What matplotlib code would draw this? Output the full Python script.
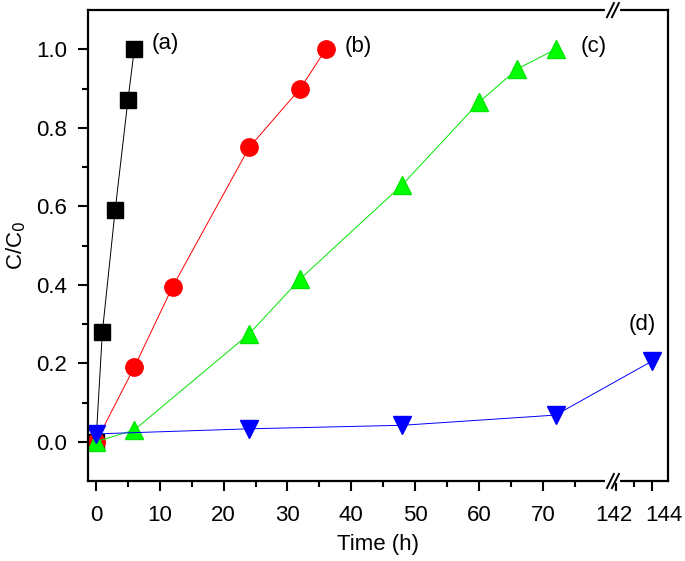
import matplotlib
matplotlib.use("Agg")
import matplotlib.pyplot as plt
import matplotlib.transforms as mtransforms
import numpy as np

plt.rcParams["font.family"] = ["Liberation Sans", "DejaVu Sans"]

# data
time_a = [0, 1, 3, 5, 6]
conc_a = [0.0, 0.28, 0.59, 0.87, 1.0]
time_b = [0, 6, 12, 24, 32, 36]
conc_b = [0.0, 0.19, 0.395, 0.75, 0.90, 1.0]
time_c = [0, 6, 24, 32, 48, 60, 66, 72]
conc_c = [0.0, 0.03, 0.275, 0.415, 0.655, 0.865, 0.95, 1.0]
time_d = [0, 24, 48, 72, 144]
conc_d = [0.02, 0.033, 0.042, 0.068, 0.205]

major_ticks = [0, 10, 20, 30, 40, 50, 60, 70, 142, 144]
minor_ticks = [5, 15, 25, 35, 45, 55, 65, 75, 143]

# broken x axis: 0..80.6 linear, then 141.7..145 stretched
BRK_L = 80.6
BRK_R = 141.7
K = 2.8125


def fwd(x):
    x = np.asarray(x, dtype=float)
    return np.where(x <= BRK_L, x, np.where(x >= BRK_R, BRK_L + (x - BRK_R) * K, BRK_L))


def inv(y):
    y = np.asarray(y, dtype=float)
    return np.where(y <= BRK_L, y, BRK_R + (y - BRK_L) / K)


fig = plt.figure(figsize=(6.85, 5.61), dpi=100)
ax = fig.add_axes([0.1285, 0.1426, 0.8465, 0.8394])
ax.set_xscale("function", functions=(fwd, inv))

ax.plot(time_a, conc_a, color="black", lw=0.7, marker="s", ms=11, mec="black")
ax.plot(time_b, conc_b, color="red", lw=0.7, marker="o", ms=12.5, mec="red")
ax.plot(time_c, conc_c, color="#00e600", lw=0.7, marker="^", ms=13, mec="#00e600",
        mfc="#00ff00")
ax.plot(time_d, conc_d, color="blue", lw=0.7, marker="v", ms=13, mec="blue")

ax.set_xlim(-1.25, 144.9)
ax.set_ylim(-0.1, 1.1)

ax.set_xticks(major_ticks)
ax.set_xticklabels([str(t) for t in major_ticks])
ax.set_xticks(minor_ticks, minor=True)
ax.set_yticks([0.0, 0.2, 0.4, 0.6, 0.8, 1.0])
ax.set_yticklabels(["0.0", "0.2", "0.4", "0.6", "0.8", "1.0"])
ax.set_yticks([0.1, 0.3, 0.5, 0.7, 0.9], minor=True)

ax.tick_params(which="major", direction="out", length=7, width=1.5, labelsize=16, pad=8)
ax.tick_params(axis="x", which="major", pad=10)
ax.tick_params(which="minor", direction="out", length=4, width=1.5)
for sp in ax.spines.values():
    sp.set_linewidth(1.6)

# nudge the two labels after the break apart, as in the original
for lab, shift in zip(ax.get_xticklabels()[-2:], (-2, 12)):
    off = mtransforms.ScaledTranslation(shift / 100, 0, fig.dpi_scale_trans)
    lab.set_transform(lab.get_transform() + off)

ax.set_xlabel("Time (h)", fontsize=16, labelpad=6)
ax.set_ylabel("C/C$_0$", fontsize=16, labelpad=6)

ax.text(8.75, 1.014, "(a)", fontsize=16, va="center", ha="left")
ax.text(39.0, 1.008, "(b)", fontsize=16, va="center", ha="left")
ax.text(76.0, 1.008, "(c)", fontsize=16, va="center", ha="left")
ax.text(142.7, 0.30, "(d)", fontsize=16, va="center", ha="left")

# break marks on top and bottom spines
bx = (fwd(BRK_L) - fwd(-1.25)) / (fwd(144.9) - fwd(-1.25))
dx = 5.0 / 581
for yb in (0.0, 1.0):
    ax.plot([bx - dx * 0.6, bx + dx * 1.6], [yb, yb], color="white", lw=3,
            transform=ax.transAxes, clip_on=False, zorder=5)
    for off in (0.0, dx):
        ax.plot([bx + off - 0.006, bx + off + 0.006], [yb - 0.015, yb + 0.015],
                color="black", lw=1.4, transform=ax.transAxes, clip_on=False, zorder=6)

fig.savefig("out.png", dpi=100)
